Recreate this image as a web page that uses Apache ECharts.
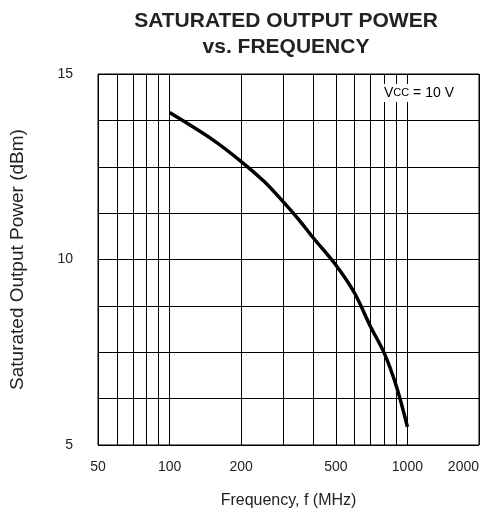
<!DOCTYPE html>
<html>
<head>
<meta charset="utf-8">
<script src="https://cdn.jsdelivr.net/npm/echarts@6/dist/echarts.min.js"></script>
<style>
  html, body { margin: 0; padding: 0; background: #fff; }
  #chart { width: 493px; height: 521px; }
</style>
</head>
<body>
<div id="chart"></div>
<script>
// frequency (MHz) and saturated output power (dBm)
const freq = [100, 150, 200, 250, 300, 350, 400, 500, 600, 700, 800, 900, 1000];
const power = [13.96, 13.25, 12.64, 12.1, 11.56, 11.07, 10.6, 9.85, 9.09, 8.19, 7.47, 6.57, 5.49];

// log-grid positions and which of them carry a label
const xGrid = [50, 60, 70, 80, 90, 100, 200, 300, 400, 500, 600, 700, 800, 900, 1000, 2000];
const xLabels = [50, 100, 200, 500, 1000, 2000];
const yLabels = [5, 10, 15];

let chart = echarts.init(document.getElementById('chart'));

let font = 'Liberation Sans, Arial, sans-serif';

let option = {
  animation: false,
  title: {
    text: 'SATURATED OUTPUT POWER\nvs. FREQUENCY',
    left: 281,
    top: 3,
    textAlign: 'center',
    textStyle: {
      fontFamily: font,
      fontSize: 21,
      fontWeight: 'bold',
      color: '#222',
      lineHeight: 26
    }
  },
  grid: {
    left: 98,
    right: 14,
    top: 74,
    bottom: 76,
    outerBoundsMode: 'none',
    show: true,
    borderColor: '#000',
    borderWidth: 1
  },
  xAxis: {
    type: 'log',
    logBase: 10,
    min: 50,
    max: 2000,
    name: 'Frequency, f (MHz)',
    nameLocation: 'middle',
    nameGap: 48,
    nameTextStyle: { fontFamily: font, fontSize: 16, color: '#222' },
    axisLine: { show: false },
    axisTick: { show: false, customValues: xGrid },
    axisLabel: {
      customValues: xLabels,
      margin: 15,
      fontFamily: font,
      fontSize: 14,
      color: '#222',
      alignMaxLabel: 'right',
      formatter: function (v) { return String(Math.round(v)); }
    },
    splitLine: { show: true, lineStyle: { color: '#000', width: 1 } }
  },
  yAxis: {
    type: 'value',
    min: 5,
    max: 15,
    interval: 1.25,
    name: 'Saturated Output Power (dBm)',
    nameLocation: 'middle',
    nameGap: 71,
    nameTextStyle: { fontFamily: font, fontSize: 19, color: '#222' },
    axisLine: { show: false },
    axisTick: { show: false },
    axisLabel: {
      margin: 25,
      fontFamily: font,
      fontSize: 14,
      color: '#222',
      formatter: function (v) {
        return yLabels.indexOf(v) >= 0 ? String(v) : '';
      }
    },
    splitLine: { show: true, lineStyle: { color: '#000', width: 1 } }
  },
  graphic: [
    {
      type: 'text',
      left: 381,
      top: 84,
      z: 100,
      style: {
        text: '{a|V}{b|CC}{a| = 10 V}',
        backgroundColor: '#fff',
        padding: [2, 3, 2, 3],
        rich: {
          a: { fontFamily: font, fontSize: 14, color: '#222' },
          b: { fontFamily: font, fontSize: 11, color: '#222' }
        }
      }
    }
  ],
  series: [
    {
      type: 'line',
      data: freq.map((f, i) => [f, power[i]]),
      smooth: 0.3,
      showSymbol: false,
      lineStyle: { color: '#000', width: 3.5 },
      z: 10
    }
  ]
};

chart.setOption(option);
</script>
</body>
</html>
